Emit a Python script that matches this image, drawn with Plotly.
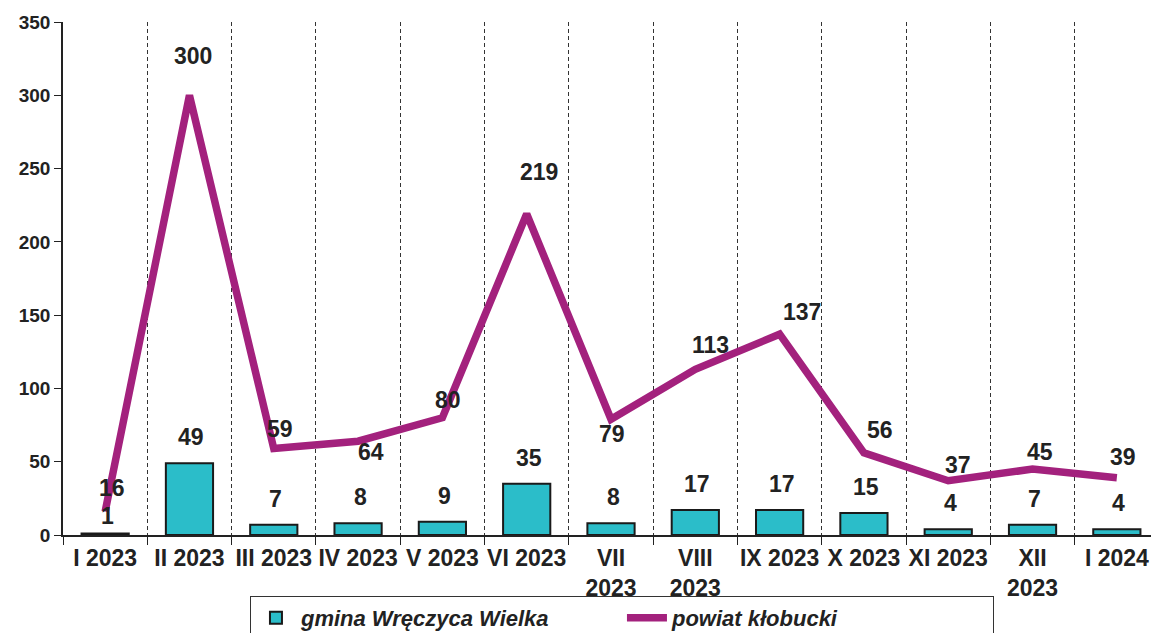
import plotly.graph_objects as go

# data
months = ["I 2023", "II 2023", "III 2023", "IV 2023", "V 2023", "VI 2023",
          "VII<br>2023", "VIII<br>2023", "IX 2023", "X 2023", "XI 2023",
          "XII<br>2023", "I 2024"]
gmina = [1, 49, 7, 8, 9, 35, 8, 17, 17, 15, 4, 7, 4]
powiat = [16, 300, 59, 64, 80, 219, 79, 113, 137, 56, 37, 45, 39]

# label offsets in px (style only)
bar_dy = [18, 26, 26, 26, 26, 26, 26, 26, 26, 26, 26, 26, 26]
line_dx = [7, 4, 6, 13, 6, 12, 1, 15, 22, 16, 10, 7, 6]
line_dy = [24, 39, 20, -11, 18, 42, -15, 24, 22, 23, 16, 17, 21]

font_family = "Liberation Sans, Arial, sans-serif"
text_col = "#222222"
bar_col = "#2bbdc9"
line_col = "#a3217d"

fig = go.Figure()

fig.add_trace(go.Bar(
    x=months, y=gmina,
    name="gmina Wręczyca Wielka",
    marker=dict(color=bar_col, line=dict(color="#1a1a1a", width=2)),
    width=0.56,
))

fig.add_trace(go.Scatter(
    x=months, y=powiat,
    mode="lines",
    name="powiat kłobucki",
    line=dict(color=line_col, width=7.5),
))

label_font = dict(family=font_family, size=23, color=text_col, weight="bold")
annotations = []
for m, v, dy in zip(months, gmina, bar_dy):
    annotations.append(dict(
        x=m, y=v, text=str(v), showarrow=False, yanchor="middle",
        xshift=2, yshift=dy, font=label_font,
    ))
for m, v, dx, dy in zip(months, powiat, line_dx, line_dy):
    annotations.append(dict(
        x=m, y=v, text=str(v), showarrow=False, yanchor="middle",
        xshift=dx, yshift=dy, font=label_font,
    ))

# the page body adds an 8px offset, so the figure is 8px smaller
fig.update_layout(
    width=1151, height=625,
    margin=dict(l=55, r=0, t=14, b=98, autoexpand=False),
    paper_bgcolor="white",
    plot_bgcolor="white",
    font=dict(family=font_family, color=text_col),
    annotations=annotations,
    showlegend=True,
    legend=dict(
        orientation="h",
        x=0.51, xanchor="center",
        y=-0.119, yanchor="top",
        bgcolor="rgba(0,0,0,0)",
        bordercolor="#333333", borderwidth=1,
        font=dict(family=font_family, size=22, color=text_col,
                  weight="bold", style="italic"),
        entrywidth=316,
        itemwidth=40,
        traceorder="normal",
    ),
    bargap=0.44,
)

fig.update_xaxes(
    type="category",
    automargin=False,
    tickangle=0,
    tickson="boundaries",
    showgrid=True, gridcolor="#333333", gridwidth=1, griddash="4px,3px",
    showline=True, linecolor="#222222", linewidth=1.5,
    ticks="outside", ticklen=8, tickcolor="#222222",
    ticklabelstandoff=2,
    tickfont=dict(family=font_family, size=23, color=text_col, weight="bold"),
)

fig.update_yaxes(
    range=[0, 350], tickvals=[0, 50, 100, 150, 200, 250, 300, 350],
    automargin=False,
    showgrid=False, zeroline=False,
    showline=True, linecolor="#222222", linewidth=1.5,
    ticks="outside", ticklen=7, tickcolor="#222222",
    tickfont=dict(family=font_family, size=19, color=text_col, weight="bold"),
)

fig.write_html("out.html")
